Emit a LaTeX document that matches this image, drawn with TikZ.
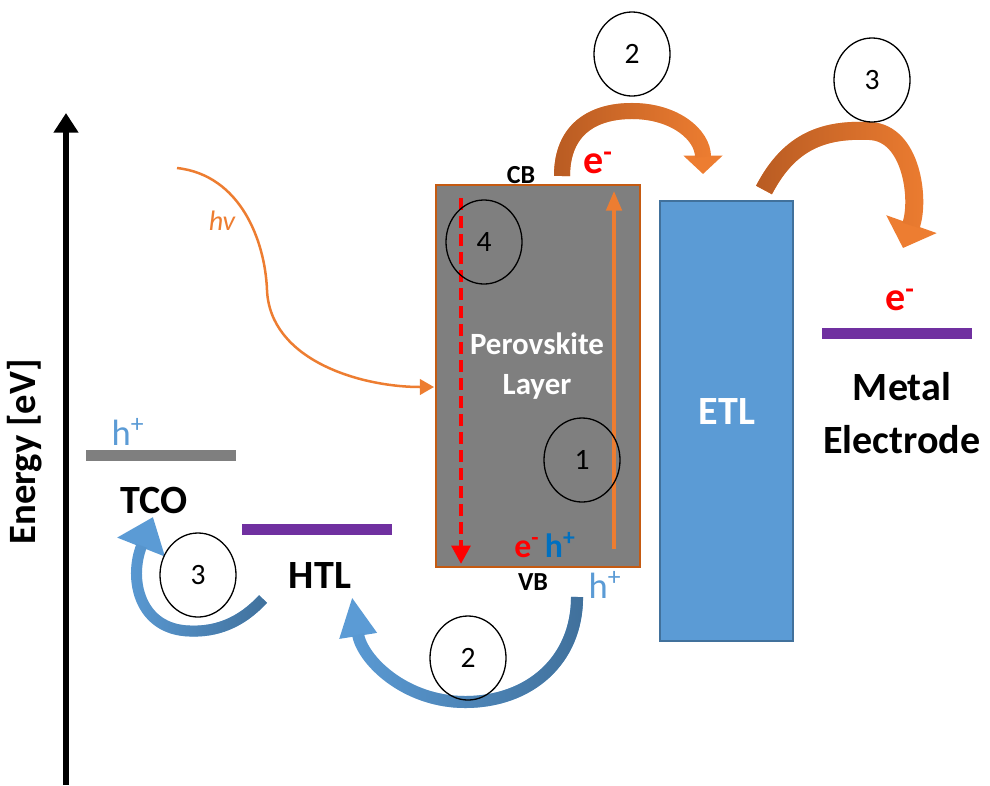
\documentclass[tikz,border=0pt]{standalone}
\usepackage{fontspec}
\setmainfont{Carlito}
\usetikzlibrary{positioning, arrows.meta, shapes.geometric, fadings}
\newlength\pxu
\setlength\pxu{0.7113pt}
\definecolor{pvkgray}{RGB}{127,127,127}
\definecolor{pvkedge}{RGB}{197,90,17}
\definecolor{orng}{RGB}{237,125,49}
\definecolor{orngdark}{RGB}{185,92,35}
\definecolor{etlblue}{RGB}{91,155,213}
\definecolor{bluedark}{RGB}{65,113,156}
\definecolor{purp}{RGB}{112,48,160}
\definecolor{holeblue}{RGB}{0,112,192}
\tikzset{
  bar/.style={rectangle, inner sep=0pt, minimum width=150\pxu, minimum height=11\pxu},
  lbl/.style={font=\fontsize{28.5}{37.7}\selectfont\bfseries, align=center},
  numc/.style={ellipse, draw=black, line width=1.3\pxu, minimum width=76\pxu, minimum height=84\pxu, inner sep=0pt, font=\fontsize{21}{23}\selectfont},
  elec/.style={text=red, font=\fontsize{28.5}{30}\selectfont\bfseries},
  hole/.style={text=etlblue, font=\fontsize{26}{28}\selectfont},
  band/.style={font=\fontsize{18.5}{20}\selectfont\bfseries},
}

\begin{document}
\begin{tikzpicture}[x=0.025cm, y=-0.025cm]
  \useasboundingbox (0,0) rectangle (990,785);
  % energy axis
  \coordinate (axbot) at (66,785);
  \coordinate (axtop) at (66,113);
  \draw[line width=6\pxu, -{Triangle[width=17pt,length=14pt]}] (axbot) -- (axtop);
  \node[rotate=90, font=\fontsize{27.5}{29}\selectfont\bfseries] (elabel) at (25,452) {Energy [eV]};

  % layers
  \node[bar, fill=pvkgray] (tco) at (161,455) {};
  \node[bar, fill=purp] (htl) at (317,529.5) {};
  \node[bar, fill=purp] (metal) at (897,333) {};
  \node[rectangle, fill=pvkgray, draw=pvkedge, line width=2\pxu, minimum width=204\pxu, minimum height=382\pxu] (pvk) at (538,376) {};
  \node[rectangle, fill=etlblue, draw=bluedark, line width=1.5\pxu, minimum width=133\pxu, minimum height=440\pxu] (etl) at (726.5,421) {};

  \node[lbl] (tcolbl) at (154,500) {TCO};
  \node[lbl] (htllbl) at (320,575) {HTL};
  \node[lbl, text=white] (etllbl) at (727,411) {ETL};
  \node[lbl] (metallbl) at (902,413) {Metal\\Electrode};
  \node[font=\fontsize{22}{29}\selectfont\bfseries, text=white, align=center] (pvklbl) at (537,366) {Perovskite\\Layer};
  \node[band] (cb) at (521,175) {CB};
  \node[band] (vb) at (533,582) {VB};

  % carriers
  \node[elec] (etop) at (598,163) {e\textsuperscript{-}};
  \node[elec] (emetal) at (900,300) {e\textsuperscript{-}};
  \node[hole] (htco) at (128,432) {h\textsuperscript{+}};
  \node[hole] (hvb) at (605,585) {h\textsuperscript{+}};
  \node[font=\fontsize{24}{26}\selectfont\bfseries] (ehpair) at (545,545) {\textcolor{red}{e\textsuperscript{-}}\,\textcolor{holeblue}{h\textsuperscript{+}}};

  % photon
  \coordinate (hvstart) at (177,168);
  \coordinate (hvmid) at (267,290);
  \coordinate (hvend) at (434,387);
  \draw[orng, line width=2.5\pxu, -{Triangle[width=11pt,length=10pt]}] (hvstart) .. controls (240,175) and (265,240) .. (hvmid) .. controls (270,360) and (360,387) .. (hvend);
  \node[text=orng, font=\fontsize{20}{22}\selectfont\itshape] (hvlbl) at (222,221) {hv};

  % inside the absorber
  \coordinate (rtop) at (461,198);
  \coordinate (rbot) at (461,564);
  \draw[red, line width=4.5\pxu, dash pattern=on 12\pxu off 6\pxu, -{Triangle[width=13pt,length=13pt]}] (rtop) -- (rbot);
  \coordinate (otop) at (614,191);
  \coordinate (obot) at (614,549);
  \draw[orng, line width=3.5\pxu, -{Triangle[width=11pt,length=14pt]}] (obot) -- (otop);

  % electron transfer
  \coordinate (a2s) at (562,176);
  \coordinate (a2m) at (632,111);
  \coordinate (a2e) at (703,174);
  \draw[orng, line width=16\pxu, -{Triangle[width=27pt,length=13pt]}] (a2s) .. controls (562,130) and (592,111) .. (a2m) .. controls (675,111) and (703,135) .. (a2e);
  \draw[orngdark, line width=16\pxu, path fading=east, shorten >=12pt] (a2s) .. controls (562,130) and (592,111) .. (a2m) .. controls (675,111) and (703,135) .. (a2e);
  \coordinate (a3s) at (764,190);
  \coordinate (a3m) at (870,131);
  \coordinate (a3e) at (903,248);
  \draw[orng, line width=18\pxu, -{Triangle[width=37pt,length=18pt]}] (a3s) .. controls (790,140) and (825,129) .. (a3m) .. controls (912,133) and (920,200) .. (a3e);
  \draw[orngdark, line width=18\pxu, path fading=east, shorten >=17pt] (a3s) .. controls (790,140) and (825,129) .. (a3m) .. controls (912,133) and (920,200) .. (a3e);

  % hole transfer
  \coordinate (b2s) at (577,597);
  \coordinate (b2m) at (465,702);
  \coordinate (b2e) at (352,597);
  \draw[etlblue, line width=12\pxu, -{Triangle[width=25pt,length=28pt]}] (b2s) .. controls (577,660) and (530,702) .. (b2m) .. controls (405,702) and (362,660) .. (b2e);
  \draw[bluedark, line width=12\pxu, path fading=west, shorten >=27pt] (b2s) .. controls (577,660) and (530,702) .. (b2m) .. controls (405,702) and (362,660) .. (b2e);
  \coordinate (b3s) at (263,599);
  \coordinate (b3m) at (190,631);
  \coordinate (b3e) at (153,517);
  \draw[etlblue, line width=11\pxu, -{Triangle[width=35pt,length=23pt]}] (b3s) .. controls (240,624) and (215,632) .. (b3m) .. controls (140,630) and (128,580) .. (b3e);
  \draw[bluedark, line width=11\pxu, path fading=west, shorten >=22pt] (b3s) .. controls (240,624) and (215,632) .. (b3m) .. controls (140,630) and (128,580) .. (b3e);

  % process steps
  \node[numc] (s4) at (484,242) {4};
  \node[numc] (s1) at (582,460) {1};
  \node[numc] (s2top) at (632,54) {2};
  \node[numc] (s3top) at (872,80) {3};
  \node[numc] (s3left) at (198,575) {3};
  \node[numc] (s2bot) at (468,658) {2};
\end{tikzpicture}
\end{document}
